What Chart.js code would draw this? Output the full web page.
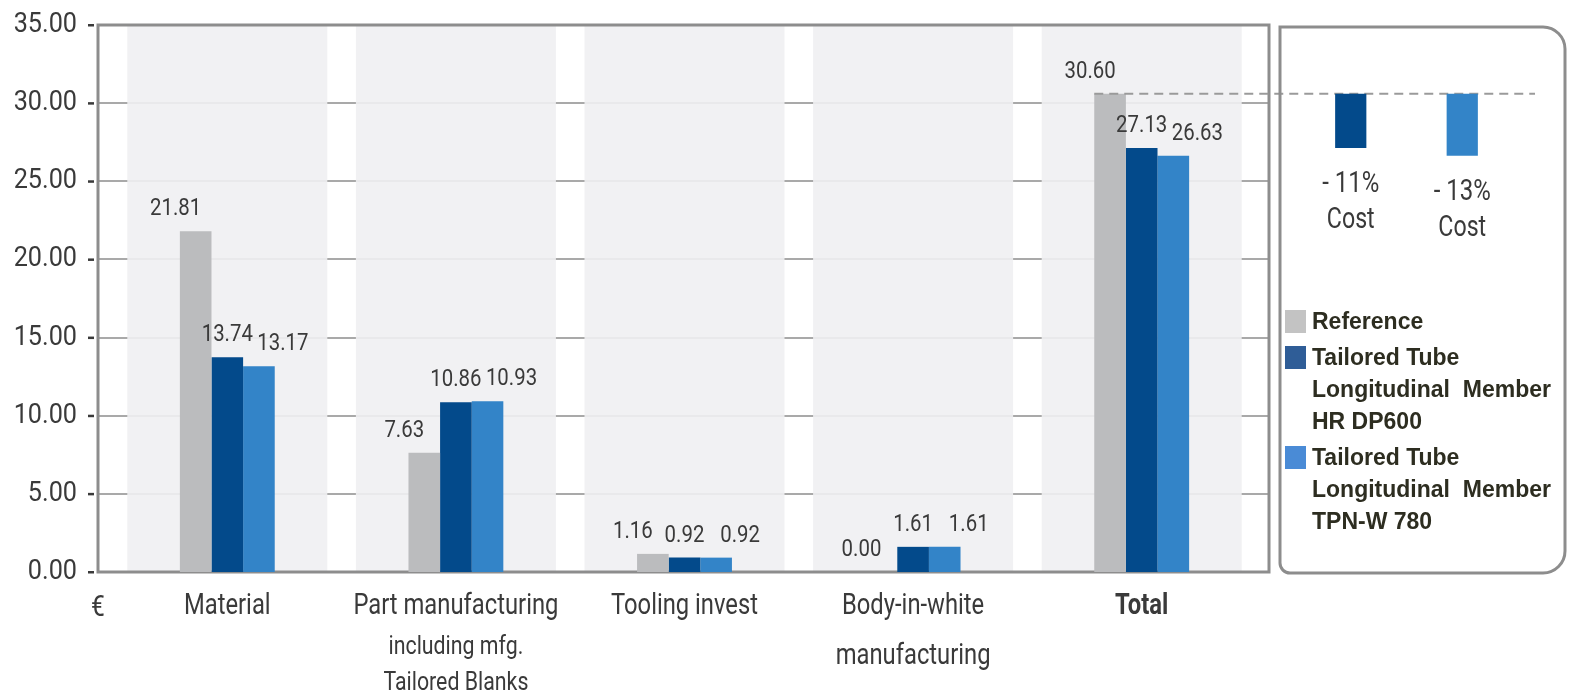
<!DOCTYPE html>
<html lang="en">
<head>
<meta charset="UTF-8">
<title>Cost comparison – Tailored Tube longitudinal member</title>
<script src="https://cdn.jsdelivr.net/npm/chart.js"></script>
<style>
  body { margin: 0; background: #fff; }
  .wrap { position: relative; width: 1575px; height: 697px; }
  .wrap canvas { position: absolute; left: 0; top: 0; }
</style>
</head>
<body>
<div class="wrap">
  <canvas id="costChart" width="1575" height="697"></canvas>
  <canvas id="deltaChart" width="1575" height="697"></canvas>
</div>
<script>
// cost per part in euro
const categories = ['Material', 'Part manufacturing', 'Tooling invest', 'Body-in-white manufacturing', 'Total'];
const categoryLines = [
  ['Material'],
  ['Part manufacturing', 'including mfg.', 'Tailored Blanks'],
  ['Tooling invest'],
  ['Body-in-white', 'manufacturing'],
  ['Total']
];
const seriesNames = [
  'Reference',
  'Tailored Tube Longitudinal Member HR DP600',
  'Tailored Tube Longitudinal Member TPN-W 780'
];
const legendLines = [
  ['Reference'],
  ['Tailored Tube', 'Longitudinal  Member', 'HR DP600'],
  ['Tailored Tube', 'Longitudinal  Member', 'TPN-W 780']
];
const referenceCost = [21.81, 7.63, 1.16, 0.00, 30.60];
const hrDp600Cost = [13.74, 10.86, 0.92, 1.61, 27.13];
const tpnW780Cost = [13.17, 10.93, 0.92, 1.61, 26.63];
const yTicks = [0, 5, 10, 15, 20, 25, 30, 35];

// no condensed face installed, so Roboto gets squeezed horizontally
const NARROW = 'Roboto, "DejaVu Sans Condensed", sans-serif';
const barColors = ['#bbbcbe', '#034a8b', '#3384c8'];
const legendColors = ['#c3c3c3', '#2f5d97', '#4a8bd6'];
const textColor = '#3a3a3a';
const frameColor = '#8d8d8d';

const totalIdx = categories.length - 1;

function line(ctx, x1, y1, x2, y2) {
  ctx.beginPath();
  ctx.moveTo(x1, y1);
  ctx.lineTo(x2, y2);
  ctx.stroke();
}

function narrowText(ctx, text, x, y, size, sx, bold) {
  ctx.save();
  ctx.font = (bold ? 'bold ' : '') + size + 'px ' + NARROW;
  ctx.translate(x, y);
  ctx.scale(sx, 1);
  ctx.fillText(text, 0, 0);
  ctx.restore();
}

// grid, grey category panels, frame and y labels behind the bars
const backdrop = {
  id: 'backdrop',
  beforeDatasetsDraw(chart) {
    const { ctx, chartArea: a, scales: { x, y } } = chart;
    const left = a.left - 15, right = a.right + 13;
    ctx.save();
    ctx.strokeStyle = '#a9a9a9';
    ctx.lineWidth = 2;
    yTicks.slice(1, -1).forEach(v => {
      const py = Math.round(y.getPixelForValue(v));
      line(ctx, left, py, right, py);
    });
    const step = x.width / categories.length;
    ctx.fillStyle = 'rgba(239, 240, 242, 0.9)';
    categories.forEach((c, i) => {
      const cx = x.getPixelForValue(i);
      ctx.fillRect(cx - step * 0.4375, a.top, step * 0.875, a.bottom - a.top);
    });
    ctx.strokeStyle = frameColor;
    ctx.lineWidth = 3;
    ctx.strokeRect(left, a.top, right - left, a.bottom - a.top);

    // y tick labels with their small dash
    ctx.fillStyle = textColor;
    ctx.textAlign = 'right';
    ctx.textBaseline = 'middle';
    y.ticks.forEach(t => {
      const py = y.getPixelForValue(t.value);
      narrowText(ctx, t.value.toFixed(2), a.left - 36, py, 28, 0.9);
      ctx.fillRect(a.left - 25, py - 1, 6, 2.5);
    });
    ctx.restore();
  }
};

// value labels, category labels, legend box
const annotations = {
  id: 'annotations',
  afterDatasetsDraw(chart) {
    const { ctx, chartArea: a, scales: { x } } = chart;
    ctx.save();

    // values above the bars
    const labelShift = [-20, 0, 24];
    ctx.fillStyle = textColor;
    ctx.textAlign = 'center';
    ctx.textBaseline = 'middle';
    chart.data.datasets.forEach((ds, di) => {
      chart.getDatasetMeta(di).data.forEach((bar, i) => {
        narrowText(ctx, ds.data[i].toFixed(2), bar.x + labelShift[di], bar.y - 22, 24, 0.85);
      });
    });

    // reference level of the total, carried into the side box
    const refBar = chart.getDatasetMeta(0).data[totalIdx];
    ctx.strokeStyle = '#9a9a9a';
    ctx.lineWidth = 2;
    ctx.setLineDash([9, 6]);
    line(ctx, refBar.x - refBar.width / 2, refBar.y, chart.width - 40, refBar.y);
    ctx.setLineDash([]);

    // category labels
    categoryLines.forEach((lines, i) => {
      const cx = x.getPixelForValue(i);
      lines.forEach((t, li) => {
        let size = 29, dy = 35;
        if (li > 0) {
          size = lines.length > 2 ? 26 : 29;
          dy = lines.length > 2 ? 75 + (li - 1) * 36 : 35 + 50 * li;
        }
        narrowText(ctx, t, cx, a.bottom + dy, size, 0.82, i === totalIdx);
      });
    });
    narrowText(ctx, '€', a.left - 15, a.bottom + 37, 29, 0.85);

    // side box
    const box = { left: a.right + 24, top: a.top + 2, right: chart.width - 10, bottom: a.bottom + 1 };
    ctx.strokeStyle = frameColor;
    ctx.lineWidth = 3;
    ctx.beginPath();
    ctx.roundRect(box.left, box.top, box.right - box.left, box.bottom - box.top, [0, 22, 22, 10]);
    ctx.stroke();

    // legend
    ctx.textAlign = 'left';
    ctx.font = 'bold 23px "Liberation Sans", Arial, sans-serif';
    let ly = box.top + 295;
    legendLines.forEach((lines, si) => {
      ctx.fillStyle = legendColors[si];
      ctx.fillRect(box.left + 5, ly - 12, 21, 23);
      ctx.fillStyle = '#2d2d20';
      lines.forEach(t => {
        ctx.fillText(t, box.left + 32, ly + 1);
        ly += 32;
      });
      ly += 4;
    });

    ctx.restore();
  }
};

new Chart(document.getElementById('costChart'), {
  type: 'bar',
  data: {
    labels: categories,
    datasets: [
      { label: seriesNames[0], data: referenceCost, backgroundColor: barColors[0] },
      { label: seriesNames[1], data: hrDp600Cost, backgroundColor: barColors[1] },
      { label: seriesNames[2], data: tpnW780Cost, backgroundColor: barColors[2] }
    ]
  },
  options: {
    responsive: false,
    animation: false,
    layout: { padding: { left: 0, right: 319, top: 25, bottom: 125 } },
    datasets: { bar: { categoryPercentage: 0.415, barPercentage: 1 } },
    plugins: { legend: { display: false }, tooltip: { enabled: false } },
    scales: {
      x: { display: false },
      y: {
        min: 0,
        max: 35,
        grid: { display: false },
        border: { display: false },
        afterFit: s => { s.width = 113; },
        ticks: { stepSize: 5, display: false }
      }
    }
  },
  plugins: [backdrop, annotations]
});

// savings against the reference total, drawn in the side box
const deltaNames = [seriesNames[1], seriesNames[2]];
const deltaRanges = [
  [hrDp600Cost[totalIdx], referenceCost[totalIdx]],
  [tpnW780Cost[totalIdx], referenceCost[totalIdx]]
];

const deltaLabels = {
  id: 'deltaLabels',
  afterDatasetsDraw(chart) {
    const { ctx } = chart;
    ctx.save();
    ctx.fillStyle = textColor;
    ctx.textAlign = 'center';
    ctx.textBaseline = 'middle';
    chart.getDatasetMeta(0).data.forEach((bar, i) => {
      const [lo, hi] = deltaRanges[i];
      const pct = Math.round((lo - hi) / hi * 100);
      const bottom = Math.max(bar.y, bar.base);
      narrowText(ctx, '- ' + Math.abs(pct) + '%', bar.x, bottom + 37, 30, 0.8);
      narrowText(ctx, 'Cost', bar.x, bottom + 73, 29, 0.8);
    });
    ctx.restore();
  }
};

new Chart(document.getElementById('deltaChart'), {
  type: 'bar',
  data: {
    labels: deltaNames,
    datasets: [{ data: deltaRanges, backgroundColor: [barColors[1], barColors[2]] }]
  },
  options: {
    responsive: false,
    animation: false,
    layout: { padding: { left: 1295, right: 57, top: 25, bottom: 125 } },
    datasets: { bar: { categoryPercentage: 1, barPercentage: 0.28 } },
    plugins: { legend: { display: false }, tooltip: { enabled: false } },
    scales: {
      x: { display: false },
      y: { display: false, min: 0, max: 35 }
    }
  },
  plugins: [deltaLabels]
});
</script>
</body>
</html>
